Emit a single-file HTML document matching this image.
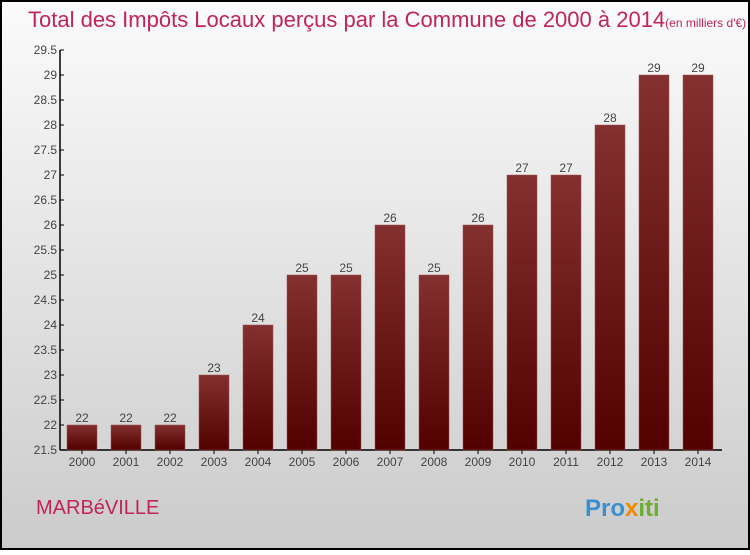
<!DOCTYPE html>
<html><head><meta charset="utf-8"><style>
body{margin:0;width:750px;height:550px;overflow:hidden;font-family:"Liberation Sans",sans-serif}
</style></head><body>
<svg width="750" height="550" xmlns="http://www.w3.org/2000/svg">
<defs>
<linearGradient id="bg" x1="0" y1="0" x2="0" y2="1"><stop offset="0" stop-color="#fbfbfb"/><stop offset="1" stop-color="#cbcbcb"/></linearGradient>
<linearGradient id="bar" x1="0" y1="0" x2="0" y2="1"><stop offset="0" stop-color="#843030"/><stop offset="1" stop-color="#520000"/></linearGradient>
</defs>
<rect x="1" y="1" width="748" height="548" fill="url(#bg)" stroke="#000" stroke-width="2"/>
<text x="28" y="27" font-size="22" fill="#c0245a">Total des Impôts Locaux perçus par la Commune de 2000 à 2014<tspan font-size="12">(en milliers d'€)</tspan></text>
<g id="axes"></g>
<g id="bars"></g>
<text x="36" y="514" font-size="20" fill="#c0245a">MARBéVILLE</text>
<text x="585" y="516" font-size="24" font-weight="bold" fill="#3a8fd0">Pro<tspan fill="#f08a00">x</tspan><tspan fill="#6ab02d">iti</tspan></text>
</svg>
<script>
const years=["2000","2001","2002","2003","2004","2005","2006","2007","2008","2009","2010","2011","2012","2013","2014"];
const values=[22,22,22,23,24,25,25,26,25,26,27,27,28,29,29];
const ticks=[21.5,22,22.5,23,23.5,24,24.5,25,25.5,26,26.5,27,27.5,28,28.5,29,29.5];
const NS="http://www.w3.org/2000/svg";
const yMin=21.5,yMax=29.5,pTop=50,pBot=450,pLeft=60,pRight=722;
const ys=v=>pBot-(v-yMin)/(yMax-yMin)*(pBot-pTop);
const xs=i=>82+i*44;
function mk(t,a,p){const e=document.createElementNS(NS,t);for(const k in a)e.setAttribute(k,a[k]);p.appendChild(e);return e;}
const ax=document.getElementById('axes'),bg=document.getElementById('bars');
const yl=mk('line',{x1:pLeft,y1:pTop,x2:pLeft,y2:pBot,stroke:'#000','stroke-width':1.5},ax);


const xl=mk('line',{x1:pLeft,y1:pBot,x2:pRight,y2:pBot,stroke:'#000','stroke-width':1.5},ax);


ticks.forEach(t=>{
 mk('line',{x1:pLeft,y1:ys(t),x2:pLeft+4,y2:ys(t),stroke:'#000'},ax);
 const tx=mk('text',{x:pLeft-3,y:ys(t)+4,'text-anchor':'end','font-size':12,fill:'#444'},ax);
 tx.textContent=String(t);
 
 
});
values.forEach((v,i)=>{
 const r=mk('rect',{x:xs(i)-15,y:ys(v),width:30,height:pBot-ys(v),fill:'url(#bar)',stroke:'#9a5050','stroke-width':0.5},bg);
 
 
 const l=mk('text',{x:xs(i),y:ys(v)-3,'text-anchor':'middle','font-size':12,fill:'#444'},bg);
 l.textContent=v;
 
 
 mk('line',{x1:xs(i),y1:pBot,x2:xs(i),y2:pBot+4,stroke:'#000'},ax);
 const xt=mk('text',{x:xs(i),y:pBot+16,'text-anchor':'middle','font-size':12,fill:'#444'},ax);
 xt.textContent=years[i];
 
 
});
</script>
</body></html>
